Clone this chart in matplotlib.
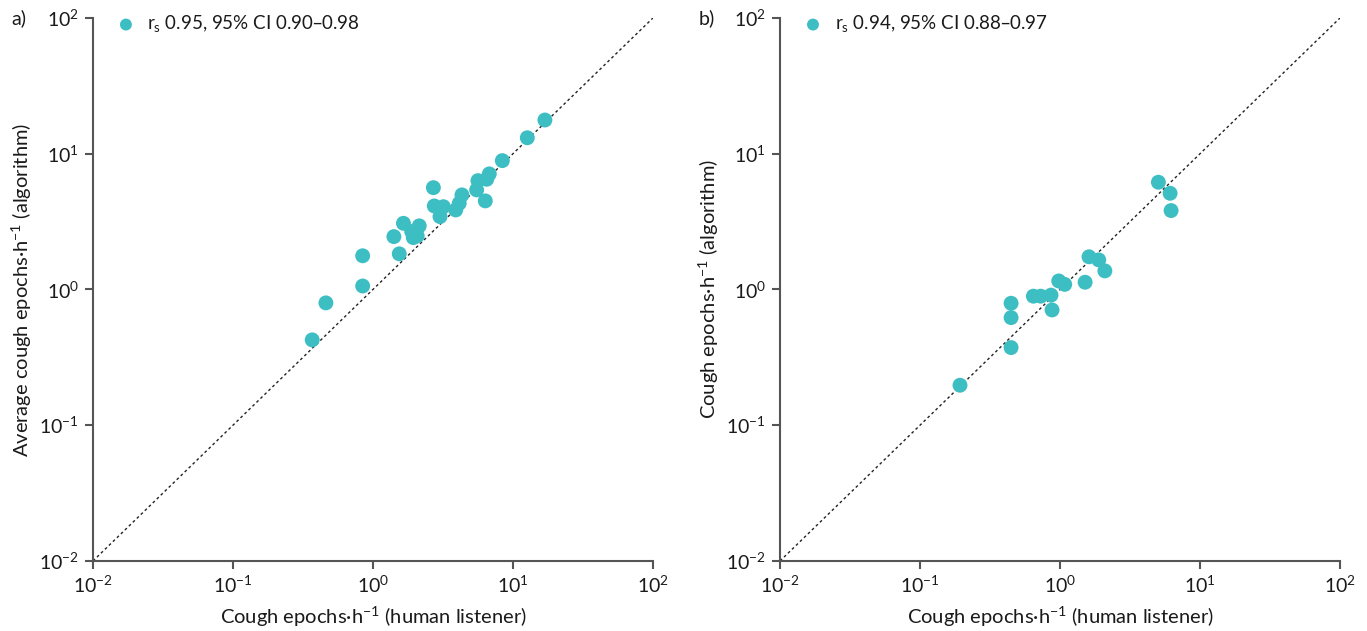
import matplotlib
matplotlib.use("Agg")
import matplotlib.pyplot as plt
from matplotlib.ticker import LogLocator, NullLocator

plt.rcParams['font.family'] = ['Lato', 'DejaVu Sans']
plt.rcParams['mathtext.default'] = 'regular'

# Panel a: human listener vs average algorithm
a_human = [16.9, 12.65, 8.39, 6.77, 6.49, 5.62, 5.50, 6.34, 4.32, 4.13, 3.90,
           2.70, 2.74, 3.18, 3.01, 1.65, 2.14, 1.89, 1.94, 2.07, 1.41, 1.54,
           0.844, 0.844, 0.461, 0.368]
a_algo = [17.7, 13.1, 8.89, 7.10, 6.48, 6.33, 5.41, 4.49, 4.97, 4.31, 3.85,
          5.62, 4.12, 4.07, 3.44, 3.07, 2.94, 2.67, 2.41, 2.48, 2.45, 1.83,
          1.77, 1.06, 0.796, 0.425]

# Panel b: human listener vs algorithm
b_human = [5.04, 6.11, 6.21, 1.61, 1.89, 2.09, 0.979, 1.08, 1.51, 0.645,
           0.728, 0.862, 0.877, 0.447, 0.447, 0.447, 0.193]
b_algo = [6.16, 5.11, 3.81, 1.74, 1.65, 1.37, 1.155, 1.09, 1.13, 0.892,
          0.892, 0.908, 0.706, 0.791, 0.62, 0.373, 0.197]

legend_a = "r$_{s}$ 0.95, 95% CI 0.90–0.98"
legend_b = "r$_{s}$ 0.94, 95% CI 0.88–0.97"
xlabel = "Cough epochs·h$^{−1}$ (human listener)"
ylabel_a = "Average cough epochs·h$^{−1}$ (algorithm)"
ylabel_b = "Cough epochs·h$^{−1}$ (algorithm)"
lims = [1e-2, 1e2]

color = "#3DBEC3"
axc = "#555555"
txt = "#1a1a1a"

fig = plt.figure(figsize=(13.67, 6.31), dpi=100)
ax1 = fig.add_axes([0.068, 0.111, 0.4097, 0.8606])
ax2 = fig.add_axes([0.5706, 0.111, 0.4097, 0.8606])

panels = [(ax1, a_human, a_algo, legend_a, ylabel_a, "a)"),
          (ax2, b_human, b_algo, legend_b, ylabel_b, "b)")]

for ax, xs, ys, leg, ylab, tag in panels:
    ax.set_xscale('log')
    ax.set_yscale('log')
    ax.set_xlim(lims)
    ax.set_ylim(lims)
    ax.plot(lims, lims, linestyle=(0, (2, 2)), color='#222222', lw=1.0, zorder=1)
    ax.scatter(xs, ys, s=115, color=color, edgecolors='none', zorder=3,
               clip_on=False, label=leg)
    for side in ['top', 'right']:
        ax.spines[side].set_visible(False)
    for side in ['left', 'bottom']:
        ax.spines[side].set_color(axc)
        ax.spines[side].set_linewidth(1.5)
    ax.xaxis.set_major_locator(LogLocator(base=10, numticks=10))
    ax.yaxis.set_major_locator(LogLocator(base=10, numticks=10))
    ax.xaxis.set_minor_locator(NullLocator())
    ax.yaxis.set_minor_locator(NullLocator())
    ax.tick_params(axis='both', which='major', direction='out', length=6,
                   width=1.5, color=axc, labelsize=14, labelcolor=txt, pad=4)
    ax.set_xlabel(xlabel, fontsize=14.5, color=txt, labelpad=6)
    ax.set_ylabel(ylab, fontsize=14.5, color=txt, labelpad=4)
    lg = ax.legend(loc='upper left', bbox_to_anchor=(0.012, 1.022), frameon=False,
                   fontsize=13.5, handletextpad=0.15, borderaxespad=0.0,
                   markerscale=0.8, scatterpoints=1)
    for t in lg.get_texts():
        t.set_color(txt)
    ax.text(-0.145, 1.0, tag, transform=ax.transAxes, fontsize=14,
            color=txt, ha='left', va='center')

fig.savefig("out.png", dpi=100)
